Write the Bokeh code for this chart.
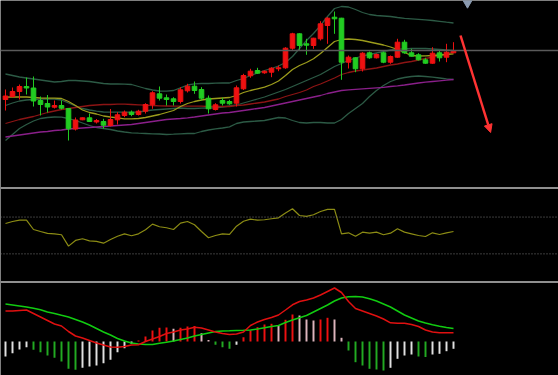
from bokeh.plotting import figure
from bokeh.models import Range1d, Span, Arrow, NormalHead
from bokeh.embed import file_html
from bokeh.resources import INLINE

# ---------------- data ----------------
opens = [14.10, 14.40, 14.90, 15.40, 15.25, 14.00, 13.70, 13.33, 13.50, 13.20,
         11.15, 12.07, 12.27, 11.85, 11.90, 11.50, 12.07, 12.50, 12.83, 12.60,
         12.93, 13.57, 14.67, 14.27, 14.17, 13.90, 14.97, 15.43, 15.10, 14.23,
         13.10, 14.00, 13.90, 13.73, 15.17, 16.47, 17.00, 16.77, 16.83, 17.17,
         17.27, 19.23, 20.67, 19.67, 19.50, 20.17, 21.50, 22.33, 22.23, 17.83,
         18.27, 17.17, 18.77, 18.27, 18.77, 17.83, 18.33, 19.83, 18.77, 18.57,
         18.07, 17.73, 18.77, 18.33, 18.77]
closes = [14.45, 14.90, 15.40, 15.25, 13.95, 13.60, 13.35, 13.50, 13.23, 11.17,
          12.05, 12.27, 11.90, 12.00, 11.53, 12.10, 12.57, 12.83, 12.60, 12.93,
          13.60, 14.77, 14.23, 14.10, 13.90, 15.07, 15.43, 15.00, 14.23, 13.17,
          13.57, 13.73, 13.67, 15.27, 16.50, 16.93, 16.73, 16.93, 17.23, 17.27,
          19.23, 20.67, 19.50, 19.53, 20.23, 21.67, 22.23, 22.17, 17.83, 18.33,
          17.17, 18.73, 18.27, 18.60, 17.83, 18.40, 19.83, 18.77, 18.43, 18.07,
          17.73, 18.73, 18.27, 18.83, 19.00]
highs = [15.10, 15.30, 15.60, 16.30, 16.40, 14.40, 14.55, 14.00, 14.00, 13.20,
         12.30, 12.30, 12.70, 12.15, 12.17, 13.15, 12.83, 13.00, 13.00, 13.07,
         13.73, 14.93, 15.40, 14.60, 14.33, 15.33, 15.67, 15.90, 15.33, 14.50,
         13.73, 14.27, 14.07, 15.50, 16.67, 17.17, 17.27, 17.00, 17.33, 17.50,
         19.33, 20.77, 20.73, 20.17, 20.27, 21.93, 22.33, 22.90, 22.27, 18.50,
         18.33, 18.83, 18.90, 18.70, 18.90, 18.50, 20.17, 20.07, 19.17, 18.73,
         18.27, 19.33, 19.00, 19.67, 19.83]
lows = [13.00, 14.30, 14.10, 14.60, 13.40, 12.50, 12.80, 13.20, 13.10, 10.00,
        11.00, 12.03, 11.85, 11.70, 11.20, 11.40, 11.60, 12.33, 12.43, 12.50,
        12.70, 13.17, 14.00, 13.50, 13.50, 13.70, 14.80, 14.67, 14.00, 12.70,
        13.00, 13.50, 13.57, 13.40, 15.05, 16.27, 16.67, 16.67, 16.33, 16.93,
        17.17, 19.07, 19.07, 18.57, 19.17, 20.00, 19.67, 20.67, 16.07, 17.20,
        16.83, 16.90, 18.17, 18.20, 17.73, 17.67, 18.27, 18.67, 18.40, 18.00,
        17.67, 17.67, 17.90, 17.83, 18.73]

boll_upper = [16.65, 16.50, 16.35, 16.25, 16.15, 16.05, 15.95, 15.85, 15.90, 16.00,
              16.00, 15.95, 15.90, 15.80, 15.70, 15.65, 15.65, 15.63, 15.60, 15.40,
              15.20, 15.05, 14.95, 14.93, 15.00, 15.27, 15.55, 15.67, 15.70, 15.70,
              15.73, 15.75, 15.75, 16.00, 16.20, 16.50, 16.75, 17.00, 17.20, 17.45,
              17.80, 18.40, 19.20, 20.00, 20.70, 21.50, 22.40, 23.20, 23.40, 23.35,
              23.10, 22.80, 22.60, 22.50, 22.45, 22.40, 22.30, 22.22, 22.17, 22.12,
              22.07, 22.00, 21.92, 21.83, 21.75]
boll_mid = [13.50, 13.75, 13.95, 14.05, 14.10, 14.13, 14.15, 14.15, 14.05, 13.75,
            13.45, 13.20, 13.05, 12.93, 12.85, 12.83, 12.83, 12.83, 12.83, 12.85,
            12.95, 13.05, 13.10, 13.15, 13.20, 13.25, 13.20, 13.20, 13.23, 13.25,
            13.27, 13.35, 13.45, 13.55, 13.75, 13.95, 14.15, 14.35, 14.60, 14.85,
            15.10, 15.40, 15.70, 16.00, 16.30, 16.60, 17.00, 17.40, 17.70, 18.00,
            18.25, 18.45, 18.60, 18.75, 18.90, 19.05, 19.13, 19.17, 19.20, 19.22,
            19.20, 19.15, 19.10, 19.05, 19.00]
boll_lower = [10.00, 10.60, 11.20, 11.60, 11.95, 12.20, 12.30, 12.35, 12.33, 12.20,
              12.00, 11.75, 11.50, 11.30, 11.20, 11.10, 10.95, 10.85, 10.77, 10.73,
              10.70, 10.67, 10.65, 10.60, 10.63, 10.67, 10.70, 10.70, 10.90, 11.05,
              11.17, 11.25, 11.37, 11.70, 11.85, 11.90, 11.95, 12.00, 12.15, 12.30,
              12.25, 12.00, 11.80, 11.75, 11.80, 11.80, 11.75, 11.75, 12.10, 12.70,
              13.20, 13.70, 14.40, 15.00, 15.50, 15.90, 16.15, 16.30, 16.40, 16.45,
              16.40, 16.33, 16.25, 16.17, 16.10]
ma_short = [14.33, 14.35, 14.35, 14.35, 14.30, 14.25, 14.23, 14.23, 14.20, 13.90,
            13.50, 13.05, 12.80, 12.65, 12.45, 12.35, 12.27, 12.17, 12.17, 12.20,
            12.30, 12.45, 12.60, 12.80, 13.00, 13.40, 13.70, 13.90, 14.05, 14.15,
            14.20, 14.25, 14.30, 14.50, 14.80, 15.00, 15.17, 15.33, 15.60, 15.95,
            16.50, 17.10, 17.50, 17.80, 18.17, 18.70, 19.30, 19.90, 20.10, 20.15,
            20.10, 20.00, 19.85, 19.70, 19.55, 19.35, 19.10, 18.80, 18.50, 18.45,
            18.47, 18.50, 18.55, 18.60, 18.67]
ma_mid = [11.70, 11.90, 12.10, 12.25, 12.40, 12.60, 12.80, 12.95, 13.10, 13.20,
          13.30, 13.40, 13.50, 13.55, 13.60, 13.60, 13.63, 13.63, 13.60, 13.57,
          13.53, 13.50, 13.47, 13.45, 13.43, 13.43, 13.43, 13.43, 13.43, 13.40,
          13.40, 13.40, 13.40, 13.50, 13.55, 13.65, 13.75, 13.85, 14.00, 14.15,
          14.40, 14.60, 14.80, 15.05, 15.40, 15.65, 15.95, 16.25, 16.60, 16.80,
          16.95, 17.05, 17.15, 17.25, 17.40, 17.55, 17.65, 17.80, 17.90, 18.05,
          18.20, 18.33, 18.50, 18.67, 18.83]
ma_long = [10.35, 10.45, 10.55, 10.65, 10.75, 10.85, 10.90, 11.00, 11.05, 11.15,
           11.20, 11.25, 11.30, 11.35, 11.40, 11.45, 11.50, 11.55, 11.60, 11.70,
           11.80, 11.90, 12.00, 12.10, 12.15, 12.20, 12.27, 12.35, 12.45, 12.55,
           12.65, 12.75, 12.80, 12.90, 13.00, 13.10, 13.20, 13.30, 13.45, 13.60,
           13.75, 13.90, 14.05, 14.20, 14.35, 14.50, 14.70, 14.85, 15.00, 15.07,
           15.12, 15.17, 15.22, 15.27, 15.32, 15.40, 15.47, 15.55, 15.65, 15.75,
           15.83, 15.90, 15.97, 16.03, 16.10]
ref_price = 19.0

rsi = [63.0, 65.2, 66.6, 66.6, 56.5, 54.3, 52.2, 51.8, 50.8, 38.4,
       44.6, 46.4, 44.2, 43.5, 41.6, 45.7, 49.2, 51.8, 49.7, 51.8,
       56.2, 62.3, 59.5, 58.4, 56.5, 63.4, 65.2, 61.6, 54.3, 47.5,
       50.0, 51.8, 51.1, 60.1, 65.5, 67.7, 66.6, 67.1, 68.2, 69.2,
       74.5, 79.0, 71.7, 70.7, 72.5, 76.1, 78.3, 78.3, 51.8, 52.9,
       49.2, 53.6, 52.5, 53.6, 50.8, 52.5, 57.3, 53.6, 51.8, 50.0,
       48.9, 52.9, 51.1, 52.9, 54.3]
rsi_levels = [70, 30]

dif = [0.305, 0.305, 0.310, 0.315, 0.280, 0.245, 0.210, 0.175, 0.155, 0.100,
       0.055, 0.035, 0.010, -0.015, -0.035, -0.055, -0.057, -0.050, -0.035, -0.033,
       0.000, 0.025, 0.050, 0.080, 0.095, 0.115, 0.125, 0.143, 0.135, 0.115,
       0.095, 0.080, 0.070, 0.075, 0.095, 0.160, 0.195, 0.220, 0.240, 0.265,
       0.315, 0.367, 0.400, 0.415, 0.435, 0.465, 0.500, 0.535, 0.490, 0.400,
       0.330, 0.305, 0.280, 0.255, 0.225, 0.187, 0.183, 0.183, 0.170, 0.150,
       0.115, 0.095, 0.087, 0.087, 0.087]
dea = [0.375, 0.365, 0.355, 0.345, 0.332, 0.317, 0.295, 0.280, 0.262, 0.245,
       0.220, 0.195, 0.165, 0.130, 0.095, 0.065, 0.030, 0.005, -0.015, -0.025,
       -0.030, -0.030, -0.018, -0.008, 0.005, 0.020, 0.035, 0.055, 0.070, 0.085,
       0.100, 0.105, 0.107, 0.110, 0.112, 0.115, 0.125, 0.137, 0.150, 0.160,
       0.190, 0.215, 0.238, 0.260, 0.295, 0.330, 0.365, 0.405, 0.435, 0.447,
       0.450, 0.445, 0.427, 0.405, 0.375, 0.345, 0.305, 0.265, 0.235, 0.205,
       0.185, 0.167, 0.152, 0.140, 0.130]
macd_hist = [-0.150, -0.117, -0.080, -0.057, -0.083, -0.107, -0.140, -0.163, -0.200, -0.273,
             -0.283, -0.263, -0.250, -0.240, -0.217, -0.183, -0.107, -0.067, -0.023, 0.010,
             0.050, 0.110, 0.137, 0.140, 0.127, 0.137, 0.150, 0.155, 0.083, 0.015,
             -0.033, -0.057, -0.073, -0.033, 0.043, 0.110, 0.143, 0.170, 0.177, 0.160,
             0.217, 0.270, 0.260, 0.220, 0.210, 0.220, 0.237, 0.220, 0.037, -0.090,
             -0.207, -0.240, -0.273, -0.280, -0.290, -0.263, -0.173, -0.140, -0.130, -0.150,
             -0.155, -0.130, -0.123, -0.097, -0.073]

# annotation anchors (bar index, price)
arrow_start = (65.0, 20.5)
arrow_end = (69.3, 10.8)
marker_pos = (66.0, 23.75)

# ---------------- styling ----------------
UP, DOWN = "#ee1111", "#22cc22"
BG = "black"

n = len(opens)
idx = list(range(n))
candle_col = [UP if c >= o else DOWN for o, c in zip(opens, closes)]
body_top = [max(o, c) for o, c in zip(opens, closes)]
body_bot = [min(o, c) for o, c in zip(opens, closes)]

hist_col = []
for i, v in enumerate(macd_hist):
    prev = macd_hist[i - 1] if i > 0 else v
    if v >= 0:
        hist_col.append("#ee1111" if v >= prev else "#dcb4bc")
    else:
        hist_col.append("#22aa22" if v <= prev and i > 0 else "#e0e0e0")

p = figure(width=558, height=375,
           x_range=Range1d(-0.714, 79.0), y_range=Range1d(-13.5, 24.0),
           output_backend="svg", toolbar_location=None,
           x_axis_location=None, y_axis_location=None,
           min_border=0, background_fill_color=BG, border_fill_color=BG,
           outline_line_color=None)
p.grid.visible = False
p.extra_y_ranges = {"rsi": Range1d(-102.2, 305.4), "macd": Range1d(-0.34, 3.41)}

# panel separators and reference lines
p.add_layout(Span(location=5.25, dimension="width", line_color="#8f8f8f", line_width=2))
p.add_layout(Span(location=0.595, dimension="width", y_range_name="macd",
                  line_color="#8f8f8f", line_width=2))
p.add_layout(Span(location=ref_price, dimension="width", line_color="#5a5a5a", line_width=1.5))
for lv in rsi_levels:
    p.add_layout(Span(location=lv, dimension="width", y_range_name="rsi",
                      line_color="#777777", line_width=1, line_dash="1 2"))

# top panel indicator lines
BB = "#2c5a45"
p.line(idx, boll_upper, line_color=BB, line_width=1.3)
p.line(idx, boll_mid, line_color=BB, line_width=1.3)
p.line(idx, boll_lower, line_color=BB, line_width=1.3)
p.line(idx, ma_long, line_color="#8a1f8a", line_width=1.3)
p.line(idx, ma_mid, line_color="#8c1414", line_width=1.3)
p.line(idx, ma_short, line_color="#9c9c1c", line_width=1.3)

# candles
p.segment(x0=idx, y0=lows, x1=idx, y1=highs, line_color=candle_col, line_width=1)
p.vbar(x=idx, width=0.66, top=body_top, bottom=body_bot,
       fill_color=candle_col, line_color=candle_col, line_width=1)

# RSI panel
p.line(idx, rsi, y_range_name="rsi", line_color="#8c8c14", line_width=1.2)

# MACD panel
p.vbar(x=idx, width=0.28, top=macd_hist, bottom=0, y_range_name="macd",
       fill_color=hist_col, line_color=None)
p.line(idx, dea, y_range_name="macd", line_color="#11cc11", line_width=1.5)
p.line(idx, dif, y_range_name="macd", line_color="#e01010", line_width=1.5)

# annotations
p.add_layout(Arrow(end=NormalHead(size=8, fill_color="#ff3333", line_color="#ff3333"),
                   x_start=arrow_start[0], y_start=arrow_start[1],
                   x_end=arrow_end[0], y_end=arrow_end[1],
                   line_color="#ff3333", line_width=2.5))
p.scatter(x=[marker_pos[0]], y=[marker_pos[1]], marker="inverted_triangle",
          size=9, fill_color="#8a9ab0", line_color="#8a9ab0")

open("out.html", "w").write(file_html(p, INLINE))
